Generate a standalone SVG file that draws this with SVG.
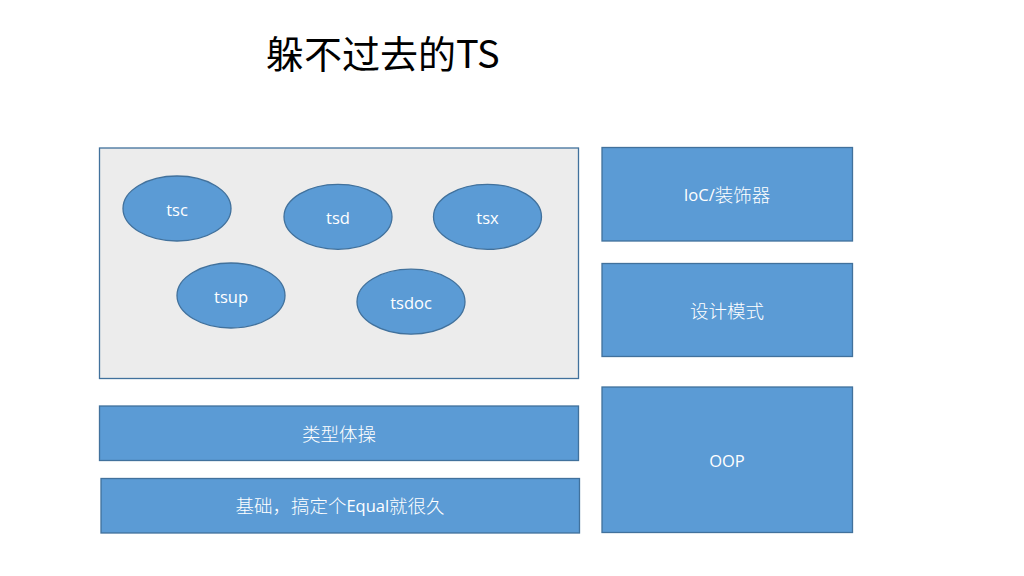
<svg xmlns="http://www.w3.org/2000/svg" width="1024" height="576" viewBox="0 0 1024 576">
<style>
.box{fill:#5B9BD5;stroke:#41719C;stroke-width:1.3}
.lbl{fill:#FFFFFF;font-family:"Open Sans","Noto Sans CJK SC",sans-serif;font-size:16.5px;text-anchor:middle;dominant-baseline:central}
.cjk{font-family:"Noto Sans CJK SC",sans-serif;font-size:18.5px;font-weight:300}
.title{fill:#000000;font-family:"Noto Sans CJK SC","Noto Sans",sans-serif;font-size:38px}
</style>
<rect width="1024" height="576" fill="#FFFFFF"/>
<text class="title" x="266" y="68">躲不过去的TS</text>
<g id="container">
<rect x="99.5" y="148" width="479" height="230.5" fill="#ECECEC" stroke="#41719C" stroke-width="1.3"/>
</g>
<g id="tsc"><ellipse class="box" cx="177" cy="208.5" rx="54" ry="32.5"/><text class="lbl" x="177" y="209">tsc</text></g>
<g id="tsd"><ellipse class="box" cx="338" cy="216.8" rx="54" ry="32.5"/><text class="lbl" x="338" y="217">tsd</text></g>
<g id="tsx"><ellipse class="box" cx="487.5" cy="216.8" rx="54" ry="32.5"/><text class="lbl" x="487.5" y="217">tsx</text></g>
<g id="tsup"><ellipse class="box" cx="231" cy="295.5" rx="54" ry="32.5"/><text class="lbl" x="231" y="296">tsup</text></g>
<g id="tsdoc"><ellipse class="box" cx="411" cy="301.7" rx="54" ry="32.5"/><text class="lbl" x="411" y="302">tsdoc</text></g>
<g id="ioc"><rect class="box" x="602" y="147.5" width="250.5" height="93.5"/><text class="lbl" x="727" y="194">IoC/<tspan class="cjk">装饰器</tspan></text></g>
<g id="patterns"><rect class="box" x="602" y="263.5" width="250.5" height="93"/><text class="lbl" x="727" y="310"><tspan class="cjk">设计模式</tspan></text></g>
<g id="oop"><rect class="box" x="602" y="387" width="250.5" height="145.5"/><text class="lbl" x="727" y="460">OOP</text></g>
<g id="typegym"><rect class="box" x="99.5" y="406" width="479" height="54.5"/><text class="lbl" x="339" y="433"><tspan class="cjk">类型体操</tspan></text></g>
<g id="basics"><rect class="box" x="101" y="478.5" width="478.5" height="54.5"/><text class="lbl" x="340" y="505"><tspan class="cjk">基础，搞定个</tspan>Equal<tspan class="cjk">就很久</tspan></text></g>
<g id="connectors"></g>
</svg>
